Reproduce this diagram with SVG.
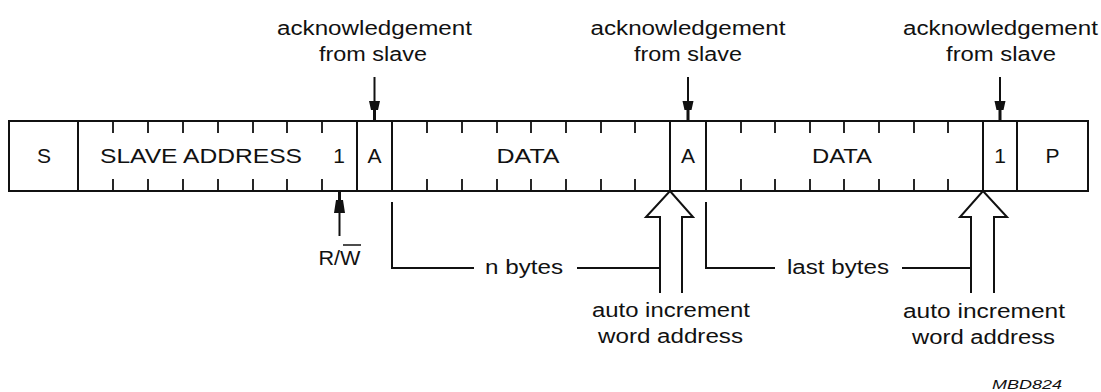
<svg xmlns="http://www.w3.org/2000/svg" width="1101" height="392" viewBox="0 0 1101 392">
<style>
.t{font-family:"Liberation Sans",Arial,sans-serif;font-size:20px;fill:#111;text-anchor:middle}
.f{font-size:21px}
.ln{stroke:#111;stroke-width:2;fill:none}
.tk{stroke:#111;stroke-width:1.8}
.hollow{stroke:#111;stroke-width:2;fill:#fff;stroke-linejoin:miter}
.head{fill:#111}
</style>
<rect width="1101" height="392" fill="#fff"/>

<g id="frame">
  <rect x="9" y="121" width="1079" height="70" class="ln"/>
  <path class="ln" d="M78,121V191M357,121V191M392,121V191M670,121V191M706,121V191M983,121V191M1017,121V191"/>
  <path class="tk" d="M113,121v12M148,121v12M183,121v12M218,121v12M253,121v12M287,121v12M322,121v12
  M427,121v12M462,121v12M497,121v12M531,121v12M566,121v12M601,121v12M635,121v12
  M741,121v12M775,121v12M810,121v12M844,121v12M879,121v12M914,121v12M948,121v12
  M113,179v12M148,179v12M183,179v12M218,179v12M253,179v12M287,179v12M322,179v12
  M427,179v12M462,179v12M497,179v12M531,179v12M566,179v12M601,179v12M635,179v12
  M741,179v12M775,179v12M810,179v12M844,179v12M879,179v12M914,179v12M948,179v12"/>
</g>

<g id="field-S"><text class="t f" x="44" y="163">S</text></g>
<g id="field-slave-address"><text class="t f" x="201" y="163" textLength="202" lengthAdjust="spacingAndGlyphs">SLAVE ADDRESS</text></g>
<g id="field-rw"><text class="t f" x="339" y="163">1</text></g>
<g id="field-A1"><text class="t f" x="374.5" y="163">A</text></g>
<g id="field-data1"><text class="t f" x="528" y="163" textLength="63" lengthAdjust="spacingAndGlyphs">DATA</text></g>
<g id="field-A2"><text class="t f" x="688" y="163">A</text></g>
<g id="field-data2"><text class="t f" x="842" y="163" textLength="60" lengthAdjust="spacingAndGlyphs">DATA</text></g>
<g id="field-1"><text class="t f" x="1000" y="163">1</text></g>
<g id="field-P"><text class="t f" x="1052.5" y="163">P</text></g>

<g id="ack1">
  <text class="t" x="374.5" y="35" textLength="195" lengthAdjust="spacingAndGlyphs">acknowledgement</text>
  <text class="t" x="373" y="61" textLength="108" lengthAdjust="spacingAndGlyphs">from slave</text>
</g>
<g id="ack2">
  <text class="t" x="688" y="35" textLength="195" lengthAdjust="spacingAndGlyphs">acknowledgement</text>
  <text class="t" x="688" y="61" textLength="108" lengthAdjust="spacingAndGlyphs">from slave</text>
</g>
<g id="ack3">
  <text class="t" x="1000.5" y="35" textLength="195" lengthAdjust="spacingAndGlyphs">acknowledgement</text>
  <text class="t" x="1001" y="61" textLength="110" lengthAdjust="spacingAndGlyphs">from slave</text>
</g>

<g id="rw-label">
  <text class="t" x="339.5" y="265" textLength="42" lengthAdjust="spacingAndGlyphs">R/W</text>
  <line x1="343" y1="245" x2="361" y2="245" stroke="#111" stroke-width="1.5"/>
</g>

<g id="nbytes-label"><text class="t" x="524" y="274" textLength="78" lengthAdjust="spacingAndGlyphs">n bytes</text></g>
<g id="lastbytes-label"><text class="t" x="838" y="274" textLength="102" lengthAdjust="spacingAndGlyphs">last bytes</text></g>

<g id="autoinc1">
  <text class="t" x="671" y="317" textLength="158" lengthAdjust="spacingAndGlyphs">auto increment</text>
  <text class="t" x="670.5" y="343" textLength="145" lengthAdjust="spacingAndGlyphs">word address</text>
</g>
<g id="autoinc2">
  <text class="t" x="984" y="318" textLength="162" lengthAdjust="spacingAndGlyphs">auto increment</text>
  <text class="t" x="983.5" y="344" textLength="143" lengthAdjust="spacingAndGlyphs">word address</text>
</g>

<g id="code"><text x="1027" y="389" style="font-family:'Liberation Sans',Arial,sans-serif;font-size:13px;font-style:italic;fill:#111;text-anchor:middle" textLength="70" lengthAdjust="spacingAndGlyphs">MBD824</text></g>

<g id="connectors">
  <!-- acknowledgement arrows -->
  <line x1="374.5" y1="77" x2="374.5" y2="104" class="ln" stroke-width="1.5"/>
  <polygon class="head" points="369,101 380,101 378,110 376,110 376,121 373,121 373,110 371,110"/>
  <line x1="688" y1="77" x2="688" y2="104" class="ln" stroke-width="1.5"/>
  <polygon class="head" points="682.5,101 693.5,101 691.5,110 689.5,110 689.5,121 686.5,121 686.5,110 684.5,110"/>
  <line x1="1000" y1="77" x2="1000" y2="104" class="ln" stroke-width="1.5"/>
  <polygon class="head" points="994.5,101 1005.5,101 1003.5,110 1001.5,110 1001.5,121 998.5,121 998.5,110 996.5,110"/>
  <!-- R/W arrow -->
  <line x1="339.5" y1="208" x2="339.5" y2="236" class="ln" stroke-width="1.5"/>
  <polygon class="head" points="338,191 341,191 341,200 343,200 345,213 334,213 336,200 338,200"/>
  <!-- brackets -->
  <path class="ln" stroke-width="1.5" d="M392,202V268H474M577,268H660"/>
  <path class="ln" stroke-width="1.5" d="M706,202V268H775M902,268H971"/>
  <!-- hollow arrows -->
  <path class="hollow" d="M660,293V217H646L670,191L693,217H682V293"/>
  <path class="hollow" d="M971,293V217H960L983,191L1007,217H994V293"/>
</g>
</svg>
